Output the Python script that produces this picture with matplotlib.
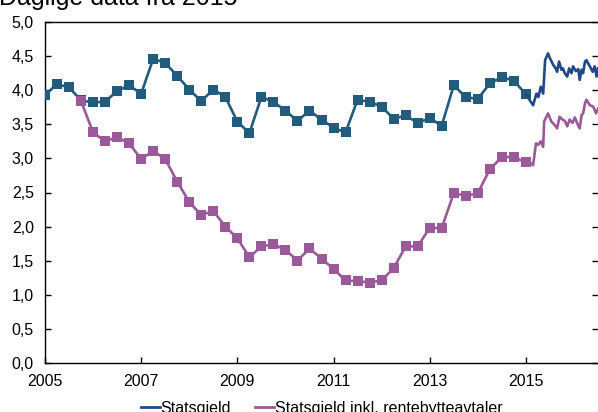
import matplotlib
matplotlib.use("Agg")
import matplotlib.pyplot as plt
from matplotlib.ticker import FuncFormatter, FixedLocator
from matplotlib.lines import Line2D

plt.rcParams['font.family'] = ['Liberation Sans', 'DejaVu Sans']

# Quarterly data 2005-2015
q_years = [2005.0 + 0.25 * i for i in range(41)]
statsgjeld_q = [3.93, 4.09, 4.04, 3.85, 3.82, 3.83, 3.99, 4.07, 3.95, 4.46,
                4.40, 4.21, 4.01, 3.84, 4.01, 3.90, 3.54, 3.37, 3.90, 3.83,
                3.70, 3.55, 3.70, 3.57, 3.45, 3.38, 3.86, 3.83, 3.76, 3.58,
                3.63, 3.52, 3.59, 3.48, 4.07, 3.90, 3.87, 4.10, 4.19, 4.14,
                3.94]
rb_q_years = [2005.75 + 0.25 * i for i in range(38)]
statsgjeld_rb_q = [3.84, 3.38, 3.25, 3.31, 3.22, 2.99, 3.11, 2.99, 2.66, 2.36,
                   2.17, 2.23, 2.00, 1.83, 1.55, 1.71, 1.74, 1.66, 1.50, 1.68,
                   1.53, 1.38, 1.21, 1.20, 1.18, 1.21, 1.39, 1.71, 1.71, 1.98,
                   1.98, 2.49, 2.45, 2.49, 2.84, 3.02, 3.02, 2.94]

# Daily data from 2015 (read approximately)
d_years = [2015.0, 2015.15, 2015.22, 2015.26, 2015.31, 2015.36, 2015.40, 2015.46,
           2015.50, 2015.57, 2015.62, 2015.65, 2015.69, 2015.74, 2015.77, 2015.81,
           2015.86, 2015.90, 2015.95, 2015.98, 2016.04, 2016.09, 2016.12, 2016.16,
           2016.19, 2016.23, 2016.26, 2016.33, 2016.39, 2016.43, 2016.47, 2016.50]
statsgjeld_d = [3.94, 3.78, 3.95, 3.90, 4.05, 3.95, 4.44, 4.54,
                4.47, 4.37, 4.32, 4.27, 4.42, 4.30, 4.32, 4.25,
                4.20, 4.32, 4.25, 4.35, 4.28, 4.31, 4.15, 4.30,
                4.25, 4.42, 4.44, 4.35, 4.27, 4.35, 4.20, 4.32]
rb_d_years = [2015.0, 2015.06, 2015.15, 2015.21, 2015.26, 2015.31, 2015.36, 2015.38,
              2015.46, 2015.53, 2015.60, 2015.65, 2015.70, 2015.76, 2015.81, 2015.86,
              2015.91, 2015.97, 2016.02, 2016.07, 2016.12, 2016.16, 2016.19, 2016.23,
              2016.26, 2016.33, 2016.40, 2016.46, 2016.50]
statsgjeld_rb_d = [2.94, 2.95, 2.90, 3.22, 3.20, 3.25, 3.17, 3.54,
                   3.66, 3.54, 3.49, 3.44, 3.61, 3.57, 3.55, 3.47,
                   3.57, 3.52, 3.60, 3.51, 3.44, 3.64, 3.66, 3.81,
                   3.86, 3.78, 3.76, 3.66, 3.73]

x_ticks = [2005, 2007, 2009, 2011, 2013, 2015]
y_ticks = [0.0, 0.5, 1.0, 1.5, 2.0, 2.5, 3.0, 3.5, 4.0, 4.5, 5.0]

c_teal = '#225b7b'
c_navy = '#1f4a86'
c_purple = '#9a5a9a'

fig = plt.figure(figsize=(5.98, 4.12), dpi=100)
ax = fig.add_axes([45 / 598, 49 / 412, 553 / 598, 341 / 412])

ax.plot(q_years, statsgjeld_q, color=c_teal, lw=1.9, marker='s', ms=6.5,
        markeredgewidth=0, zorder=3)
ax.plot(rb_q_years, statsgjeld_rb_q, color=c_purple, lw=1.9, marker='s', ms=6.5,
        markeredgewidth=0, zorder=3)
ax.plot(d_years, statsgjeld_d, color=c_navy, lw=1.9, zorder=3)
ax.plot(rb_d_years, statsgjeld_rb_d, color=c_purple, lw=1.9, zorder=3)

ax.set_xlim(2005, 2016.5)
ax.set_ylim(0, 5)
ax.xaxis.set_major_locator(FixedLocator(x_ticks))
ax.yaxis.set_major_locator(FixedLocator(y_ticks))
ax.yaxis.set_major_formatter(FuncFormatter(lambda v, p: f"{v:.1f}".replace('.', ',')))
ax.xaxis.set_major_formatter(FuncFormatter(lambda v, p: f"{int(v)}"))
ax.tick_params(axis='both', direction='in', length=4, width=1, labelsize=11.5,
               colors='black')
ax.tick_params(axis='y', right=True, labelright=False, pad=8)
ax.tick_params(axis='x', pad=8)
for s in ['left', 'bottom', 'top']:
    ax.spines[s].set_linewidth(1.0)
ax.spines['right'].set_visible(False)

fig.text(-0.002, 1 - 5 / 412, "Daglige data fra 2015", fontsize=18,
         ha='left', va='baseline')

handles = [Line2D([], [], color=c_navy, lw=2),
           Line2D([], [], color=c_purple, lw=2)]
fig.legend(handles, ["Statsgjeld", "Statsgjeld inkl. rentebytteavtaler"],
           loc='center', bbox_to_anchor=(0.538, 1 - 408 / 412), ncol=2, frameon=False,
           fontsize=11.5, handlelength=1.2, handletextpad=0.05, columnspacing=1.5,
           borderaxespad=0, borderpad=0)

fig.savefig("out.png", dpi=100)
